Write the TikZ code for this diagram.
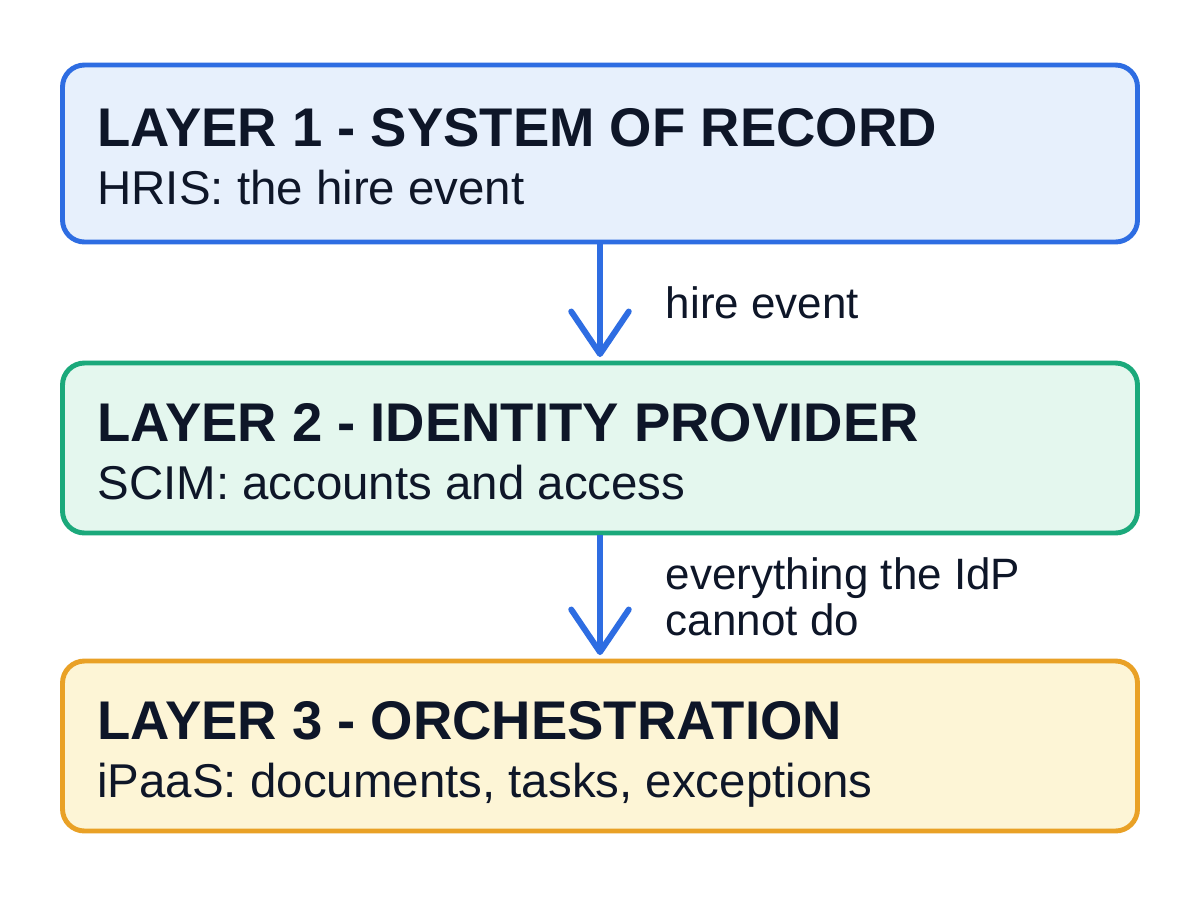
\documentclass[tikz,border=0pt]{standalone}
\usepackage{fontspec}
\setmainfont{Liberation Sans}
\usetikzlibrary{arrows.meta,calc,positioning}
\definecolor{inkcol}{HTML}{0E1628}
\definecolor{bluecol}{HTML}{2E6DE2}
\definecolor{bluefill}{HTML}{E7F0FC}
\definecolor{greencol}{HTML}{1BA97B}
\definecolor{greenfill}{HTML}{E4F7EE}
\definecolor{orangecol}{HTML}{E9A126}
\definecolor{orangefill}{HTML}{FDF5D6}

\begin{document}
\begin{tikzpicture}[
  layerbox/.style={draw, line width=2.8pt, rounded corners=0.44cm, minimum width=21.5cm},
  layertitle/.style={anchor=base west, inner sep=0, text=inkcol, font=\fontsize{31}{34}\selectfont\bfseries},
  layersub/.style={anchor=base west, inner sep=0, text=inkcol, font=\fontsize{27}{30}\selectfont},
  flow/.style={bluecol, line width=3.4pt, -{Straight Barb[length=0.85cm,width=1.15cm,round]}, shorten >=2pt},
  flowlabel/.style={anchor=west, inner sep=0, text=inkcol, align=left, font=\fontsize{25}{26}\selectfont}
]
\fill[white] (0,0) rectangle (24,-17.92);
\useasboundingbox (0,0) rectangle (24,-17.92);
% the three layers
\node[layerbox, bluecol, fill=bluefill, minimum height=3.54cm] (l1) at (12,-3.07) {};
\node[layerbox, greencol, fill=greenfill, minimum height=3.4cm] (l2) at (12,-8.96) {};
\node[layerbox, orangecol, fill=orangefill, minimum height=3.4cm] (l3) at (12,-14.92) {};
% titles and subtitles
\node[layertitle] (t1) at ($(l1.west)+(0.74,0.14)$) {LAYER 1 - SYSTEM OF RECORD};
\node[layersub] (s1) at ($(l1.west)+(0.74,-1.02)$) {HRIS: the hire event};
\node[layertitle] (t2) at ($(l2.west)+(0.74,0.14)$) {LAYER 2 - IDENTITY PROVIDER};
\node[layersub] (s2) at ($(l2.west)+(0.74,-1.02)$) {SCIM: accounts and access};
\node[layertitle] (t3) at ($(l3.west)+(0.74,0.14)$) {LAYER 3 - ORCHESTRATION};
\node[layersub] (s3) at ($(l3.west)+(0.74,-1.02)$) {iPaaS: documents, tasks, exceptions};
% hand-offs
\draw[flow] (l1.south) -- node[flowlabel, right=1.26cm] (a1) {hire event} (l2.north);
\draw[flow] (l2.south) -- node[flowlabel, right=1.26cm] (a2) {everything the IdP\\cannot do} (l3.north);
\end{tikzpicture}
\end{document}
